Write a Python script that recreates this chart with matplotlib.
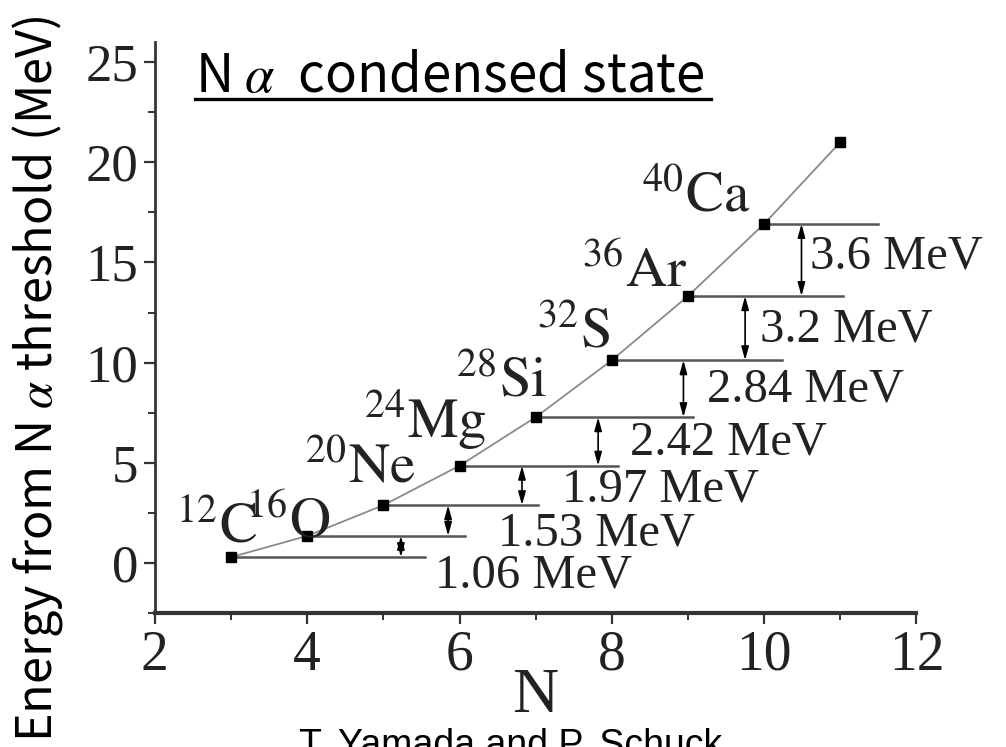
import matplotlib
matplotlib.use('Agg')
import matplotlib.pyplot as plt
from matplotlib.lines import Line2D
from matplotlib.ticker import MultipleLocator

# data
n_alpha = [3, 4, 5, 6, 7, 8, 9, 10, 11]
energy = [0.3, 1.36, 2.89, 4.86, 7.28, 10.12, 13.32, 16.92, 21.0]
nuclei = ['12C', '16O', '20Ne', '24Mg', '28Si', '32S', '36Ar', '40Ca']
gaps = ['1.06', '1.53', '1.97', '2.42', '2.84', '3.2', '3.6']

# right end of each threshold level line (in N)
level_end = [5.55, 6.07, 7.03, 8.08, 9.07, 10.24, 11.03, 11.5]
# x of double arrows between levels
arrow_x = [5.23, 5.85, 6.82, 7.82, 8.94, 9.75, 10.49]
# label anchors
gap_label_pos = [(5.68, -0.6), (6.51, 1.5), (7.35, 3.65), (8.24, 6.0),
                 (9.25, 8.65), (9.94, 11.65), (10.60, 15.3)]
nuc_label_pos = [(3.34, 1.0), (4.30, 1.3), (5.42, 4.05), (6.36, 6.3),
                 (7.15, 8.3), (7.98, 10.75), (8.99, 13.8), (9.82, 17.55)]

plt.rcParams['mathtext.fontset'] = 'stix'
serif = 'Liberation Serif'
jp = ['Noto Sans CJK JP', 'DejaVu Sans']

fig = plt.figure(figsize=(10.06, 7.47), dpi=100)
ax = fig.add_axes([0.154, 0.179, 0.757, 0.765])

ax.plot(n_alpha, energy, color='#8a8a8a', lw=1.3, zorder=2)
ax.plot(n_alpha, energy, 's', color='black', ms=7, zorder=3)

# threshold levels
for i in range(len(level_end)):
    ax.plot([n_alpha[i], level_end[i]], [energy[i], energy[i]],
            color='#555555', lw=1.8, zorder=1)

# gaps between neighbouring levels
for i, g in enumerate(gaps):
    ax.annotate('', xy=(arrow_x[i], energy[i + 1]), xytext=(arrow_x[i], energy[i]),
                arrowprops=dict(arrowstyle='<|-|>,head_length=0.8,head_width=0.22',
                                color='black', lw=1.2, shrinkA=0, shrinkB=0))
    ax.text(gap_label_pos[i][0], gap_label_pos[i][1], g + ' MeV', family=serif,
            fontsize=35, ha='left', va='center', color='#222222')

# nucleus labels
for i, name in enumerate(nuclei):
    mass = ''.join(c for c in name if c.isdigit())
    sym = ''.join(c for c in name if c.isalpha())
    ax.text(nuc_label_pos[i][0], nuc_label_pos[i][1],
            r'$^{' + mass + r'}\mathrm{' + sym + '}$',
            fontsize=41, ha='right', va='baseline', color='#222222')

ax.set_xlim(2, 12)
ax.set_ylim(-2.5, 26)
ax.xaxis.set_major_locator(MultipleLocator(2))
ax.xaxis.set_minor_locator(MultipleLocator(1))
ax.set_yticks([0, 5, 10, 15, 20, 25])
ax.yaxis.set_minor_locator(MultipleLocator(2.5))
for s in ['top', 'right']:
    ax.spines[s].set_visible(False)
ax.spines['left'].set_linewidth(2)
ax.spines['bottom'].set_linewidth(3)
ax.spines['left'].set_color('#333333')
ax.spines['bottom'].set_color('#333333')
ax.tick_params(which='major', length=8, width=1.6, color='#333333', pad=4)
ax.tick_params(axis='x', labelsize=40)
ax.tick_params(axis='y', labelsize=38)
ax.tick_params(which='minor', length=5, width=1.4, color='#333333')
for lab in ax.get_xticklabels() + ax.get_yticklabels():
    lab.set_family(serif)
    lab.set_color('#222222')
ax.set_xlabel('N', family=serif, fontsize=46, labelpad=-10, color='#222222')

# y label and title
fig.text(0.037, 0.493, r'Energy from N $\alpha$ threshold (MeV)', family=jp,
         fontsize=35, rotation=90, ha='center', va='center')
fig.text(0.194, 0.877, r'N $\alpha$  condensed state', family=jp, fontsize=38,
         ha='left', va='baseline')
fig.add_artist(Line2D([0.194, 0.707], [0.867, 0.867], color='black', lw=2.4))

fig.text(0.508, 0.025, 'T. Yamada and P. Schuck', family='Liberation Sans',
         fontsize=27, ha='center', va='top')

fig.savefig('out.png', dpi=100)
